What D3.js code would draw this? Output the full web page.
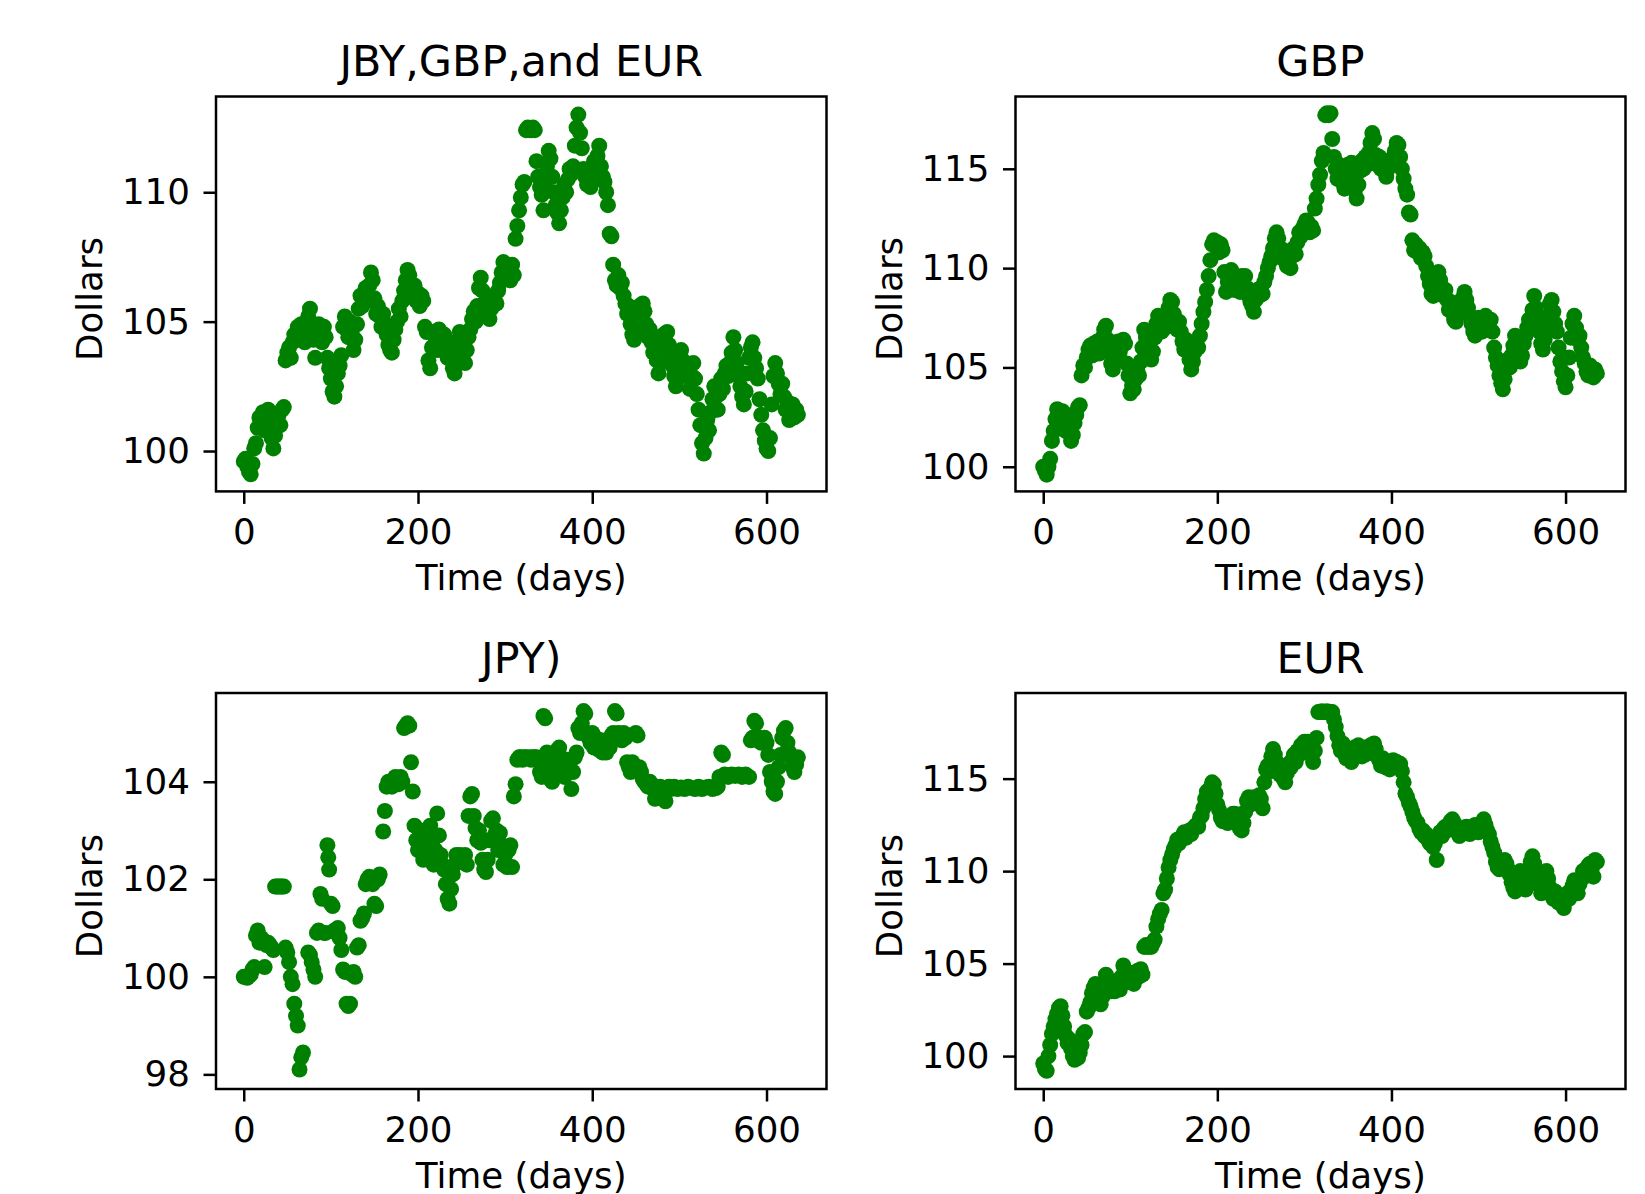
<!DOCTYPE html>
<html>
<head>
<meta charset="utf-8">
<script src="https://cdn.jsdelivr.net/npm/d3@7"></script>
<style>
  body { margin: 0; background: #fff; }
  svg { display: block; font-family: 'DejaVu Sans', sans-serif; }
</style>
</head>
<body>
<svg id="chart" width="1645" height="1194"></svg>
<script>
// sample days shared by the mixed, GBP and EUR panels
const days = [
  0, 2, 4, 6, 8, 10, 12, 14, 16, 18, 20, 22, 24, 26, 28, 30, 32, 34, 36, 38,
  40, 42, 44, 46, 48, 50, 52, 54, 56, 58, 60, 62, 64, 66, 68, 70, 72, 74, 76, 78,
  80, 82, 84, 86, 88, 90, 92, 94, 96, 98, 100, 102, 104, 106, 108, 110, 112, 114, 116, 118,
  120, 122, 124, 126, 128, 130, 132, 134, 136, 138, 140, 142, 144, 146, 148, 150, 152, 154, 156, 158,
  160, 162, 164, 166, 168, 170, 172, 174, 176, 178, 180, 182, 184, 186, 188, 190, 192, 194, 196, 198,
  200, 202, 204, 206, 208, 210, 212, 214, 216, 218, 220, 222, 224, 226, 228, 230, 232, 234, 236, 238,
  240, 242, 244, 246, 248, 250, 252, 254, 256, 258, 260, 262, 264, 266, 268, 270, 272, 274, 276, 278,
  280, 282, 284, 286, 288, 290, 292, 294, 296, 298, 300, 302, 304, 306, 308, 310, 312, 314, 316, 318,
  320, 322, 324, 326, 328, 330, 332, 334, 336, 338, 340, 342, 344, 346, 348, 350, 352, 354, 356, 358,
  360, 362, 364, 366, 368, 370, 372, 374, 376, 378, 380, 382, 384, 386, 388, 390, 392, 394, 396, 398,
  400, 402, 404, 406, 408, 410, 412, 414, 416, 418, 420, 422, 424, 426, 428, 430, 432, 434, 436, 438,
  440, 442, 444, 446, 448, 450, 452, 454, 456, 458, 460, 462, 464, 466, 468, 470, 472, 474, 476, 478,
  480, 482, 484, 486, 488, 490, 492, 494, 496, 498, 500, 502, 504, 506, 508, 510, 512, 514, 516, 518,
  520, 522, 524, 526, 528, 530, 532, 534, 536, 538, 540, 542, 544, 546, 548, 550, 552, 554, 556, 558,
  560, 562, 564, 566, 568, 570, 572, 574, 576, 578, 580, 582, 584, 586, 588, 590, 592, 594, 596, 598,
  600, 602, 604, 606, 608, 610, 612, 614, 616, 618, 620, 622, 624, 626, 628, 630, 632, 634, 636
]

const mixValues = [
  99.6, 99.7, 99.4, 99.2, 99.1, 99.5, 100.1, 100.3, 100.9, 101.3,
  101.0, 101.5, 100.8, 101.2, 101.6, 101.0, 100.5, 100.1, 100.6, 101.0,
  101.4, 101.0, 101.6, 101.7, 103.5, 103.8, 104.0, 103.6, 104.2, 104.5,
  104.3, 104.8, 104.4, 104.9, 104.6, 104.2, 104.8, 105.2, 105.5, 104.9,
  104.3, 103.6, 104.5, 104.9, 104.6, 104.2, 104.8, 104.4, 103.6, 103.2,
  102.8, 102.3, 102.1, 102.5, 103.0, 103.3, 103.7, 104.8, 105.2, 104.7,
  104.4, 105.0, 104.5, 103.9, 104.3, 104.9, 105.5, 106.0, 105.6, 105.9,
  106.3, 105.8, 106.4, 106.9, 106.6, 105.9, 105.3, 105.6, 105.2, 104.8,
  105.3, 104.9, 104.5, 104.1, 103.9, 103.8, 104.3, 104.7, 105.0, 105.5,
  105.2, 105.8, 106.2, 106.6, 107.0, 106.8, 106.2, 106.0, 106.4, 105.8,
  106.1, 105.6, 106.0, 105.8, 104.8, 104.6, 103.5, 103.2, 104.0, 104.6,
  104.2, 103.9, 104.7, 104.3, 103.9, 104.5, 104.0, 103.6, 104.2, 103.7,
  103.2, 103.0, 103.5, 104.0, 104.6, 104.2, 103.8, 103.4, 103.9, 104.4,
  104.7, 105.1, 105.4, 105.0, 105.6, 106.3, 106.7, 106.2, 105.7, 105.3,
  105.6, 105.1, 105.5, 105.9, 106.0, 105.7, 106.2, 106.5, 106.9, 107.3,
  107.1, 106.8, 107.0, 106.6, 107.2, 106.8, 108.2, 108.7, 109.3, 109.8,
  110.3, 110.4, 112.4, 112.5, 112.4, 112.4, 112.5, 112.4, 111.2, 110.6,
  110.2, 109.9, 109.3, 110.2, 111.0, 111.6, 111.3, 110.6, 110.0, 109.5,
  109.2, 108.8, 109.3, 109.8, 110.3, 110.0, 110.5, 110.9, 110.7, 111.0,
  111.8, 112.5, 113.0, 112.3, 111.7, 110.9, 110.6, 110.3, 110.5, 110.2,
  110.8, 111.2, 110.7, 111.4, 111.8, 111.0, 110.6, 110.4, 110.0, 109.5,
  108.4, 108.3, 107.2, 106.6, 106.4, 106.8, 106.3, 106.5, 106.0, 105.7,
  105.3, 105.6, 104.9, 104.5, 104.3, 104.7, 105.3, 105.6, 105.3, 105.7,
  105.4, 104.9, 104.4, 104.7, 104.2, 103.8, 104.3, 103.5, 103.0, 103.4,
  104.0, 104.5, 104.2, 104.6, 104.1, 103.6, 103.3, 102.9, 102.5, 102.8,
  103.4, 103.9, 103.5, 103.0, 103.3, 102.9, 102.4, 102.9, 103.4, 102.8,
  102.2, 101.6, 101.0, 100.3, 99.9, 100.5, 101.2, 100.8, 101.5, 102.0,
  102.5, 102.1, 101.6, 102.2, 102.8, 102.4, 103.0, 103.3, 102.9, 103.4,
  103.8, 104.4, 103.9, 103.4, 102.9, 102.5, 102.1, 101.8, 102.3, 103.0,
  103.6, 104.0, 104.2, 103.6, 103.2, 102.8, 102.0, 101.4, 100.8, 100.4,
  100.1, 100.0, 100.5, 101.8, 102.9, 103.4, 103.0, 102.6, 102.2, 102.6,
  102.1, 101.6, 101.9, 101.2, 101.5, 101.8, 101.3, 101.6, 101.4
]

const gbpValues = [
  100.0, 99.8, 99.6, 100.0, 100.4,
  101.3, 101.8, 102.4, 102.9, 102.5, 102.0, 102.8, 102.4, 101.8, 102.6,
  101.9, 101.3, 101.6, 102.2, 102.6, 103.0, 103.1, 104.6, 105.1, 105.0,
  105.5, 105.9, 106.1, 105.6, 106.2, 105.8, 106.3, 105.7, 106.1, 106.5,
  106.9, 107.1, 106.4, 105.8, 105.2, 104.9, 105.4, 105.9, 106.3, 105.8,
  106.1, 106.4, 106.2, 105.2, 104.6, 103.7, 104.1, 103.9, 104.4, 104.9,
  104.6, 105.3, 106.0, 106.9, 106.5, 106.0, 105.7, 105.4, 105.8, 106.5,
  107.2, 107.6, 107.2, 106.8, 107.4, 107.0, 107.5, 108.0, 108.4, 108.3,
  107.7, 107.1, 106.9, 107.3, 106.8, 106.3, 105.9, 106.4, 105.8, 105.4,
  104.9, 105.3, 105.8, 106.2, 106.0, 106.6, 107.2, 107.8, 108.3, 108.9,
  109.6, 110.4, 111.2, 111.4, 111.1, 111.3, 110.8, 111.2, 110.9, 109.8,
  108.8, 109.3, 109.8, 109.9, 109.4, 108.9, 109.5, 109.2, 108.8, 109.6,
  109.2, 109.6, 109.0, 108.6, 108.3, 108.1, 107.8, 108.4, 108.9, 108.6,
  109.0, 108.7, 109.3, 109.6, 110.0, 110.3, 110.6, 111.0, 111.5, 111.8,
  111.5, 111.0, 110.5, 110.9, 110.4, 110.1, 110.4, 110.0, 110.6, 111.0,
  110.7, 111.3, 111.8, 111.6, 112.0, 112.2, 112.4, 112.3, 111.8, 112.1,
  111.9, 113.0, 113.5, 114.2, 114.7, 115.4, 115.8, 117.7, 117.8, 117.7,
  117.8, 116.5, 115.6, 115.0, 114.5, 115.2, 114.8, 114.3, 114.0, 114.6,
  115.2, 114.8, 115.3, 114.6, 113.9, 113.5, 114.2, 114.9, 115.4, 115.0,
  115.6, 115.2, 115.8, 116.3, 116.8, 116.5, 115.7, 115.2, 115.6, 115.0,
  115.4, 114.9, 114.6, 115.0, 115.4, 115.2, 115.6, 115.9, 116.3, 116.2,
  115.6, 115.0, 114.5, 114.0, 113.7, 112.8, 112.7, 111.4, 110.9, 111.2,
  110.8, 111.0, 110.5, 110.8, 110.6, 110.1, 109.6, 109.2, 108.7, 108.6,
  109.1, 109.5, 109.8, 109.4, 109.0, 108.6, 108.9, 108.4, 107.9, 108.3,
  107.8, 107.4, 107.3, 107.8, 108.3, 108.0, 108.5, 108.8, 108.4, 108.0,
  107.6, 107.2, 106.8, 106.6, 107.0, 107.5, 107.1, 106.8, 107.2, 107.6,
  107.3, 106.9, 107.4, 106.8, 106.0, 105.5, 105.1, 104.6, 104.2, 103.9,
  104.4, 104.9, 105.4, 105.0, 105.6, 106.1, 106.6, 106.2, 105.7, 105.3,
  105.6, 106.2, 106.6, 107.0, 107.4, 107.2, 107.9, 108.6, 108.0, 107.5,
  106.8, 106.2, 105.9, 106.4, 107.0, 107.6, 108.2, 108.4, 107.8, 107.2,
  106.8, 106.0, 105.3, 104.8, 104.3, 104.0, 104.6, 105.5, 106.5, 107.2,
  107.6, 107.0, 106.4, 106.6, 106.0, 105.5, 105.2, 104.8, 104.6, 105.1,
  104.8, 104.5, 104.9, 104.7
]

const eurValues = [
  99.6, 99.3, 99.2, 100.0, 100.6, 101.2, 101.6, 102.0, 102.3, 102.6,
  102.7, 102.2, 101.6, 101.1, 100.7, 100.9, 100.4, 100.0, 99.8, 100.1,
  99.9, 100.2, 100.6, 101.2, 101.3, 102.4, 102.6, 102.9, 103.4, 103.7,
  103.9, 103.5, 103.1, 102.8, 103.2, 103.8, 104.4, 104.1, 103.7, 103.5,
  103.8, 103.5, 103.7, 104.1, 103.6, 104.3, 104.9, 104.6, 104.2, 104.0,
  104.5, 104.1, 103.9, 104.2, 104.6, 104.3, 104.7, 104.4, 105.9, 106.0,
  105.9, 106.0, 105.9, 106.1, 106.3, 107.0, 107.4, 107.7, 107.9, 108.8,
  109.0, 109.6, 110.2, 110.6, 110.9, 111.2, 111.4, 111.7, 111.5, 111.8,
  111.9, 112.1, 111.8, 112.0, 112.2, 112.0, 112.3, 112.4, 112.5, 112.4,
  112.9, 113.0, 113.4, 113.9, 114.3, 114.0, 114.5, 114.8, 114.7, 114.2,
  113.6, 113.3, 112.9, 112.7, 112.8, 112.9, 112.6, 112.7, 112.8, 113.1,
  113.1, 112.8, 112.5, 112.3, 112.2, 112.6, 113.2, 113.8, 114.0, 113.6,
  113.8, 114.0, 113.8, 113.9, 114.1, 113.9, 113.4, 114.8, 115.5, 115.7,
  115.4, 116.2, 116.6, 116.3, 115.9, 115.6, 115.2, 115.5, 115.0, 114.8,
  115.3, 115.8, 115.6, 116.0, 116.3, 115.9, 116.5, 116.3, 116.8, 116.5,
  117.0, 116.7, 117.0, 116.8, 116.3, 115.9, 116.5, 117.2, 118.6, 118.6,
  118.65, 118.6, 118.6, 118.65, 118.6, 118.6, 118.6, 118.2, 117.8, 117.3,
  116.8, 116.5, 116.9, 116.4, 116.1, 116.5, 116.2, 115.9, 116.3, 116.7,
  116.4, 116.8, 116.5, 116.2, 116.6, 116.3, 116.7, 116.4, 116.8, 116.5,
  116.9, 116.6, 116.2, 116.0, 115.7, 116.1, 115.9, 115.6, 115.9, 115.5,
  115.8, 116.0, 115.7, 115.9, 115.6, 115.8, 115.4, 114.8, 114.2, 114.0,
  113.7, 113.5, 113.2, 112.9, 112.7, 112.6, 112.3, 112.1, 112.2, 111.9,
  112.0, 111.7, 111.5, 111.6, 111.3, 111.5, 110.6, 111.9, 112.1, 111.9,
  112.3, 112.4, 112.2, 112.5, 112.7, 112.8, 112.6, 112.4, 112.1, 111.9,
  112.0, 112.3, 112.1, 112.4, 112.2, 112.0, 112.3, 112.2, 112.5, 112.3,
  112.1, 112.4, 112.6, 112.8, 112.5, 112.2, 112.0, 111.6, 111.3, 111.0,
  110.5, 110.2, 110.1, 110.3, 110.5, 110.6, 110.4, 110.1, 109.8, 109.4,
  109.1, 108.9, 109.3, 109.7, 110.0, 109.7, 109.4, 109.0, 109.5, 110.0,
  110.5, 110.8, 110.4, 110.0, 109.6, 109.2, 108.8, 109.3, 109.7, 110.0,
  109.6, 109.1, 108.7, 108.5, 108.9, 108.6, 108.3, 108.6, 108.2, 108.0,
  108.4, 108.8, 108.5, 108.9, 109.2, 109.5, 109.1, 108.8, 109.3, 109.6,
  110.0, 109.7, 109.9, 110.3, 110.4, 110.1, 109.7, 110.6, 110.5
]

// JPY has repeated prices and gaps, so it keeps its own [day, value] pairs
const jpyPoints = [
  [0, 100.0], [2, 100.0], [4, 99.98], [6, 100.02], [8, 100.05], [10, 100.15], [12, 100.2],
  [14, 100.85], [16, 100.95], [18, 100.7], [20, 100.8], [22, 100.75], [24, 100.2], [26, 100.65],
  [28, 100.7], [30, 100.65], [32, 100.6], [34, 100.55], [36, 101.85], [38, 101.85], [40, 101.85],
  [42, 101.85], [44, 101.85], [46, 101.85], [48, 100.6], [50, 100.5], [52, 100.3], [54, 100.0],
  [56, 99.85], [58, 99.45], [60, 99.2], [62, 99.0], [64, 98.1], [66, 98.35], [68, 98.45],
  [74, 100.5], [76, 100.45], [78, 100.3], [80, 100.15], [82, 100.0], [84, 100.9], [86, 100.95],
  [88, 101.7], [90, 101.6], [92, 100.9], [94, 100.9], [96, 102.7], [97, 102.45], [98, 102.2],
  [100, 101.5], [102, 101.45], [104, 100.95], [106, 100.9], [108, 101.0], [110, 100.8],
  [112, 100.55], [114, 100.15], [116, 100.1], [118, 99.45], [120, 99.4], [122, 99.45],
  [124, 100.05], [126, 100.1], [128, 100.0], [130, 100.6], [132, 100.65], [134, 101.15],
  [136, 101.2], [138, 101.3], [140, 101.9], [142, 102.0], [144, 102.05], [146, 101.95],
  [148, 101.9], [150, 101.5], [152, 101.45], [154, 102.0], [156, 102.1],
  [160, 102.98], [162, 103.4], [164, 103.9], [166, 104.0], [168, 103.95], [170, 103.9],
  [172, 104.0], [174, 104.1], [176, 104.05], [178, 103.95], [180, 104.1], [182, 104.0],
  [184, 105.1], [186, 105.15], [188, 105.2], [190, 105.15], [192, 104.4], [194, 103.8],
  [196, 103.1], [198, 102.8], [200, 102.6], [202, 103.0], [204, 102.7], [206, 102.4],
  [208, 102.85], [210, 102.5], [212, 102.9], [214, 103.1], [216, 102.75], [218, 102.3],
  [220, 102.6], [222, 103.35], [224, 102.9], [226, 102.5], [228, 102.3], [230, 102.2],
  [232, 101.9], [234, 101.6], [236, 101.5], [238, 101.8], [240, 102.1], [242, 102.3],
  [244, 102.5], [246, 102.45], [248, 102.5], [250, 102.4], [252, 102.45], [254, 102.5],
  [256, 102.3], [258, 103.3], [260, 103.7], [262, 103.75], [264, 103.3], [266, 103.05],
  [268, 102.8], [270, 103.0], [272, 102.75], [274, 102.4], [276, 102.2], [278, 102.15],
  [280, 102.4], [282, 102.8], [284, 103.2], [286, 103.25], [288, 102.9], [290, 103.0],
  [292, 102.6], [294, 102.95], [296, 102.7], [298, 102.3], [300, 102.5], [302, 102.25],
  [304, 102.6], [306, 102.7], [308, 102.25],
  [310, 103.7], [312, 103.95], [314, 104.45], [316, 104.5], [318, 104.5], [320, 104.45],
  [322, 104.5], [324, 104.5], [326, 104.48], [328, 104.5], [330, 104.45], [332, 104.5],
  [334, 104.5], [336, 104.5], [338, 104.45], [340, 104.2], [342, 104.1], [344, 105.35],
  [346, 105.3], [348, 104.6], [350, 104.3], [352, 104.05], [354, 104.0], [356, 104.1],
  [358, 104.4], [360, 104.65], [362, 104.7], [364, 104.5], [366, 104.3], [368, 104.1],
  [370, 104.2], [372, 104.45], [374, 104.3], [376, 103.85], [378, 104.2], [380, 104.5],
  [382, 104.6], [384, 105.1], [386, 105.0], [388, 105.2], [390, 105.45], [392, 105.4],
  [394, 105.0], [396, 104.9], [398, 104.8], [400, 105.0], [402, 104.7], [404, 104.9],
  [406, 104.75], [408, 104.65], [410, 104.85], [412, 104.6], [414, 104.7], [416, 104.6],
  [418, 104.8], [420, 104.7], [422, 104.95], [424, 105.0], [426, 105.45], [428, 105.4],
  [430, 105.0], [432, 104.9], [434, 104.85], [436, 105.0], [438, 104.9], [440, 104.4],
  [442, 104.3], [444, 104.2], [446, 104.4], [448, 104.25], [450, 105.0], [452, 104.95],
  [454, 104.3], [456, 104.2], [458, 104.05], [460, 104.0], [462, 103.95], [464, 103.9],
  [466, 104.0], [468, 103.9], [470, 103.85], [472, 103.65], [474, 103.9], [476, 103.85],
  [478, 103.9], [480, 103.85], [482, 103.65], [484, 103.6], [486, 103.85], [488, 103.9],
  [490, 103.85], [494, 103.9], [498, 103.85], [502, 103.88], [506, 103.85], [510, 103.9],
  [514, 103.87], [518, 103.85], [522, 103.9], [526, 103.85], [530, 103.88], [534, 103.9],
  [538, 103.85], [542, 103.87], [544, 103.9], [546, 104.1], [548, 104.6], [550, 104.55],
  [552, 104.15], [556, 104.1], [560, 104.15], [564, 104.12], [568, 104.15], [572, 104.1],
  [576, 104.15], [580, 104.1], [582, 104.85], [584, 104.9], [586, 105.25], [588, 105.2],
  [590, 104.85], [592, 104.9], [594, 104.8], [596, 104.85], [598, 104.9], [600, 104.8],
  [602, 104.55], [604, 104.2], [606, 104.0], [608, 103.8], [610, 103.75], [612, 104.0],
  [614, 104.3], [616, 104.55], [618, 104.9], [620, 105.05], [622, 105.1], [624, 104.8],
  [626, 104.6], [628, 104.5], [630, 104.3], [632, 104.2], [634, 104.35], [636, 104.5]
]

const dayTicks = [0, 200, 400, 600]
const dayLimits = [-31.85, 668.85]

const panels = [
  { title: 'JBY,GBP,and EUR', points: d3.zip(days, mixValues), yTicks: [100, 105, 110],
    yLimits: [98.44, 113.70], box: [216, 96.5, 826.5, 491.4] },
  { title: 'GBP', points: d3.zip(days, gbpValues), yTicks: [100, 105, 110, 115],
    yLimits: [98.76, 118.64], box: [1015.5, 96.5, 1625.5, 491.4] },
  { title: 'JPY)', points: jpyPoints, yTicks: [98, 100, 102, 104],
    yLimits: [97.70, 105.82], box: [216, 693, 826.5, 1089] },
  { title: 'EUR', points: d3.zip(days, eurValues), yTicks: [100, 105, 110, 115],
    yLimits: [98.22, 119.63], box: [1015.5, 693, 1625.5, 1089] }
]

const svg = d3.select('#chart')

const styleAxis = g => {
  g.attr('font-family', null).attr('font-size', null)
  g.select('.domain').remove()
  g.selectAll('.tick line').attr('stroke', '#000').attr('stroke-width', 2.5)
  g.selectAll('.tick text').attr('fill', '#000').style('font-size', '35.7px')
}

panels.forEach(p => {
  const [x0, y0, x1, y1] = p.box
  const x = d3.scaleLinear().domain(dayLimits).range([x0, x1])
  const y = d3.scaleLinear().domain(p.yLimits).range([y1, y0])
  const g = svg.append('g')

  g.append('g')
    .selectAll('circle')
    .data(p.points)
    .join('circle')
    .attr('cx', d => x(d[0]))
    .attr('cy', d => y(d[1]))
    .attr('r', 8)
    .attr('fill', '#008000')

  g.append('g')
    .attr('transform', `translate(0,${y1})`)
    .call(d3.axisBottom(x).tickValues(dayTicks).tickSize(12.5).tickPadding(15).tickSizeOuter(0))
    .call(styleAxis)

  g.append('g')
    .attr('transform', `translate(${x0},0)`)
    .call(d3.axisLeft(y).tickValues(p.yTicks).tickSize(12.5).tickPadding(13.5).tickSizeOuter(0))
    .call(styleAxis)

  g.append('rect')
    .attr('x', x0).attr('y', y0)
    .attr('width', x1 - x0).attr('height', y1 - y0)
    .attr('fill', 'none').attr('stroke', '#000').attr('stroke-width', 2.5)

  const cx = (x0 + x1) / 2
  const cy = (y0 + y1) / 2

  g.append('text')
    .attr('x', cx).attr('y', y0 - 20.5)
    .attr('text-anchor', 'middle')
    .style('font-size', '42.8px')
    .text(p.title)

  g.append('text')
    .attr('x', cx).attr('y', y1 + 99)
    .attr('text-anchor', 'middle')
    .style('font-size', '35.7px')
    .text('Time (days)')

  g.append('text')
    .attr('transform', `translate(${x0 - 114},${cy + 5}) rotate(-90)`)
    .attr('text-anchor', 'middle')
    .style('font-size', '35.7px')
    .text('Dollars')
})
</script>
</body>
</html>
